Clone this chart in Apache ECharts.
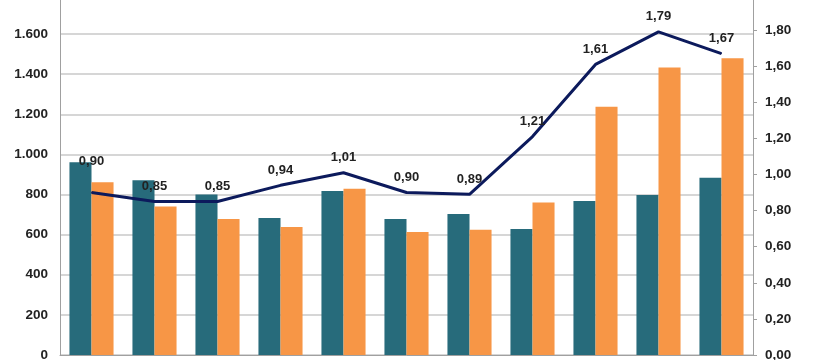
<!DOCTYPE html>
<html>
<head>
<meta charset="utf-8">
<script src="https://cdn.jsdelivr.net/npm/echarts@6/dist/echarts.min.js"></script>
<style>
html,body{margin:0;padding:0;background:#fff;}
#chart{width:820px;height:360px;}
</style>
</head>
<body>
<div id="chart"></div>
<script>
const categories = ['1','2','3','4','5','6','7','8','9','10','11'];
const seriesTeal = [961, 871, 800, 683, 818, 678, 703, 628, 768, 798, 884];
const seriesOrange = [861, 740, 678, 638, 829, 613, 625, 760, 1238, 1433, 1480];
const seriesRatio = [0.90, 0.85, 0.85, 0.94, 1.01, 0.90, 0.89, 1.21, 1.61, 1.79, 1.67];

const fmtLeft = v => {
  const s = String(Math.round(v));
  return s.replace(/\B(?=(\d{3})+(?!\d))/g, '.');
};
const fmtRight = v => v.toFixed(2).replace('.', ',');

const chart = echarts.init(document.getElementById('chart'));
chart.setOption({
  animation: false,
  grid: {left: 60, right: 67, top: -6, bottom: 5, containLabel: false, outerBoundsMode: 'none'},
  xAxis: {
    type: 'category',
    data: categories,
    axisLine: {show: true, lineStyle: {color: '#a0a0a0', width: 1}},
    axisTick: {show: false},
    axisLabel: {show: false}
  },
  yAxis: [
    {
      type: 'value', min: 0, max: 1800, interval: 200,
      axisLine: {show: true, lineStyle: {color: '#a0a0a0'}},
      axisTick: {show: false},
      splitLine: {lineStyle: {color: '#c8c8c8', width: 1.5}},
      axisLabel: {formatter: fmtLeft, fontFamily: 'Liberation Sans', fontWeight: 'bold', fontSize: 13.5, color: '#222', margin: 12}
    },
    {
      type: 'value', min: 0, max: 2, interval: 0.2,
      axisLine: {show: true, lineStyle: {color: '#a0a0a0'}},
      axisTick: {show: true, length: 4, lineStyle: {color: '#a0a0a0'}},
      splitLine: {show: false},
      axisLabel: {formatter: fmtRight, fontFamily: 'Liberation Sans', fontWeight: 'bold', fontSize: 13.5, color: '#222', margin: 12}
    }
  ],
  series: [
    {
      type: 'bar', data: seriesTeal, yAxisIndex: 0,
      itemStyle: {color: '#276b7b'}, barGap: '0%', barCategoryGap: '30%'
    },
    {
      type: 'bar', data: seriesOrange, yAxisIndex: 0,
      itemStyle: {color: '#f79646'}, barGap: '0%', barCategoryGap: '30%'
    },
    {
      type: 'line', data: seriesRatio,
      yAxisIndex: 1,
      symbol: 'circle', symbolSize: 1, showSymbol: true,
      itemStyle: {color: '#0c1a5c'},
      lineStyle: {color: '#0c1a5c', width: 3},
      label: {
        show: true, position: 'top', distance: 8,
        formatter: p => fmtRight(p.value),
        fontFamily: 'Liberation Sans', fontWeight: 'bold', fontSize: 13, color: '#222'
      },
      labelLine: {show: false, lineStyle: {color: '#333', width: 1}},
      labelLayout: p => p.dataIndex === 0 ? {dy: -16, hideOverlap: false} : {hideOverlap: false},
      z: 5
    }
  ]
});
</script>
</body>
</html>
